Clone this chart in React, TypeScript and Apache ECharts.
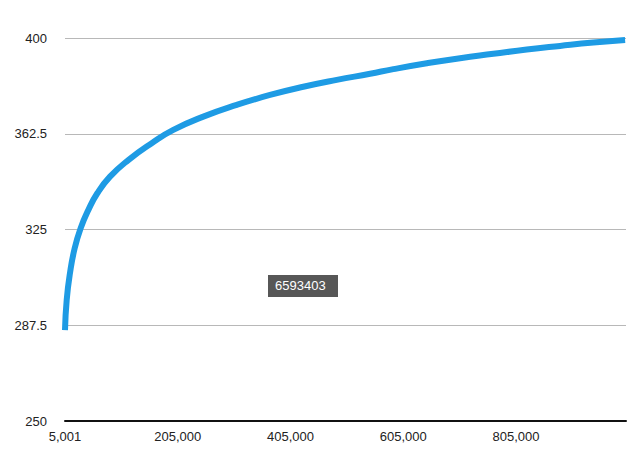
import React, { useEffect, useRef } from "react";
import * as echarts from "echarts";

// Values
const xValues = [5001, 8000, 13900, 22000, 32900, 46300, 62300, 84800, 117300, 158800, 197100, 250300, 309600, 368700, 427700, 487000, 546100, 587400, 646700, 705700, 764800, 824000, 883100, 942200, 998400];
const yValues = [285.6, 297.4, 308.0, 317.5, 325.6, 332.6, 339.2, 345.7, 352.2, 358.8, 364.0, 369.2, 373.8, 377.7, 380.9, 383.6, 386.0, 387.8, 390.1, 392.1, 393.8, 395.5, 396.9, 398.2, 399.2];
const yTickValues = [250, 287.5, 325, 362.5, 400];
const xTickValues = [5001, 205000, 405000, 605000, 805000];
const tooltipText = "6593403";

export default function App() {
  const ref = useRef<HTMLDivElement>(null);
  useEffect(() => {
    if (!ref.current) return;
    const chart = echarts.init(ref.current, null, { renderer: "svg" });
    const font = "'Liberation Sans', Arial, Helvetica, sans-serif";
    chart.setOption({
      animation: false,
      backgroundColor: "#ffffff",
      grid: { left: 65, right: 14, top: 38, bottom: 30, containLabel: false },
      xAxis: {
        type: "value",
        min: 5001,
        max: 1000000,
        axisLine: { show: true, lineStyle: { color: "#111", width: 2 } },
        axisTick: { show: false, customValues: xTickValues },
        splitLine: { show: false },
        axisLabel: {
          customValues: xTickValues,
          color: "#222",
          fontSize: 13,
          fontFamily: font,
          margin: 9,
          formatter: (v: number) => v.toLocaleString("en-US"),
        },
      },
      yAxis: {
        type: "value",
        min: 250,
        max: 400,
        axisLine: { show: false },
        axisTick: { show: false, customValues: yTickValues },
        splitLine: { show: true, lineStyle: { color: "#b8b8b8", width: 1 } },
        axisLabel: {
          customValues: yTickValues,
          color: "#222",
          fontSize: 13,
          fontFamily: font,
          margin: 18,
          formatter: (v: number) => String(v),
        },
      },
      series: [
        {
          type: "line",
          data: xValues.map((x, i) => [x, yValues[i]]),
          smooth: 0.5,
          showSymbol: false,
          lineStyle: { color: "#1e9be4", width: 6, cap: "butt" },
          z: 3,
        },
      ],
      graphic: [
        {
          type: "rect",
          left: 268,
          top: 275,
          shape: { width: 70, height: 22 },
          style: { fill: "#575757" },
          z: 10,
        },
        {
          type: "text",
          left: 275,
          top: 279,
          style: { text: tooltipText, fill: "#ffffff", fontSize: 13, fontFamily: font },
          z: 11,
        },
      ],
    });
    return () => chart.dispose();
  }, []);
  return <div ref={ref} style={{ width: 640, height: 451, position: "fixed", left: 0, top: 0 }} />;
}
